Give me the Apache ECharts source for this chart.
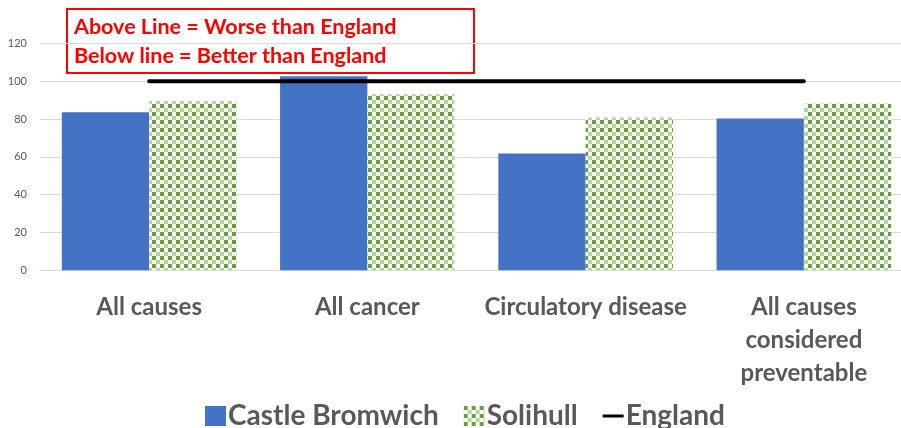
<!DOCTYPE html>
<html>
<head>
<meta charset="utf-8">
<script src="https://cdn.jsdelivr.net/npm/echarts@6/dist/echarts.min.js"></script>
<style>
html,body{margin:0;padding:0;background:#fff;overflow:hidden;}
#c{width:920px;height:428px;}
</style>
</head>
<body>
<div id="c"></div>
<script>
var categories = ['All causes', 'All cancer', 'Circulatory disease', 'All causes considered preventable'];
var tickLabels = ['All causes', 'All cancer', 'Circulatory disease', 'All causes\nconsidered\npreventable'];
var castleBromwich = [83.5, 102.6, 61.7, 80.3];
var solihull = [89.5, 93.1, 80.8, 88.2];
var england = [100, 100, 100, 100];
var yTicks = [0, 20, 40, 60, 80, 100, 120];

function makePattern() {
  var cv = document.createElement('canvas');
  cv.width = 8; cv.height = 8;
  var ctx = cv.getContext('2d');
  ctx.fillStyle = '#ffffff'; ctx.fillRect(0, 0, 8, 8);
  ctx.fillStyle = '#62a236'; ctx.fillRect(0, 0, 4, 4);
  ctx.fillStyle = '#b5d69c'; ctx.fillRect(4, 4, 4, 4);
  return cv;
}
var pattern = { image: makePattern(), repeat: 'repeat' };

var font = 'Lato, "Open Sans", sans-serif';
var chart = echarts.init(document.getElementById('c'), null, { renderer: 'canvas' });
chart.setOption({
  animation: false,
  textStyle: { fontFamily: font },
  grid: { left: 40, right: 7, top: 43.3, bottom: 157.7, containLabel: false },
  xAxis: {
    type: 'category',
    data: categories,
    axisTick: { show: false },
    axisLine: { lineStyle: { color: '#d9d9d9', width: 1 } },
    axisLabel: {
      interval: 0,
      margin: 20,
      fontSize: 24,
      fontWeight: 'bold',
      color: '#595959',
      lineHeight: 33,
      formatter: function (v, i) { return tickLabels[i]; }
    }
  },
  yAxis: {
    type: 'value',
    min: yTicks[0],
    max: yTicks[yTicks.length - 1],
    interval: 20,
    axisLine: { show: false },
    axisTick: { show: false },
    splitLine: { lineStyle: { color: '#d9d9d9', width: 1 } },
    axisLabel: { fontSize: 11, color: '#595959', margin: 13 }
  },
  legend: {
    top: 397,
    left: 200,
    itemWidth: 21,
    itemHeight: 20,
    itemGap: 25,
    textStyle: { fontSize: 28, fontWeight: 'bold', color: '#595959', fontFamily: font, padding: [0, 0, 0, -3] },
    data: [
      { name: 'Castle Bromwich', icon: 'rect' },
      { name: 'Solihull', icon: 'rect' },
      { name: 'England', icon: 'path://M0,0h28v4h-28z' }
    ]
  },
  series: [
    {
      name: 'Castle Bromwich', type: 'bar', data: castleBromwich,
      barGap: '0%', barCategoryGap: '20%',
      itemStyle: { color: '#4472c4' }
    },
    {
      name: 'Solihull', type: 'bar', data: solihull,
      barGap: '0%', barCategoryGap: '20%',
      itemStyle: { color: pattern }
    },
    {
      name: 'England', type: 'line', data: england,
      symbol: 'none', z: 5,
      lineStyle: { color: '#000000', width: 4, cap: 'round' },
      itemStyle: { color: '#000000' }
    }
  ],
  graphic: [
    {
      type: 'group', left: 66, top: 8,
      children: [
        { type: 'rect', shape: { x: 0, y: 0, width: 407, height: 64 },
          style: { fill: '#ffffff', stroke: '#ff0000', lineWidth: 2 } },
        { type: 'text', x: 7, y: 18,
          style: { text: 'Above Line = Worse than England', fill: '#ff0000',
            font: 'bold 21.5px ' + font, textVerticalAlign: 'middle', verticalAlign: 'middle' } },
        { type: 'text', x: 7, y: 47,
          style: { text: 'Below line = Better than England', fill: '#ff0000',
            font: 'bold 21.5px ' + font, textVerticalAlign: 'middle', verticalAlign: 'middle' } }
      ]
    }
  ]
});
</script>
</body>
</html>
